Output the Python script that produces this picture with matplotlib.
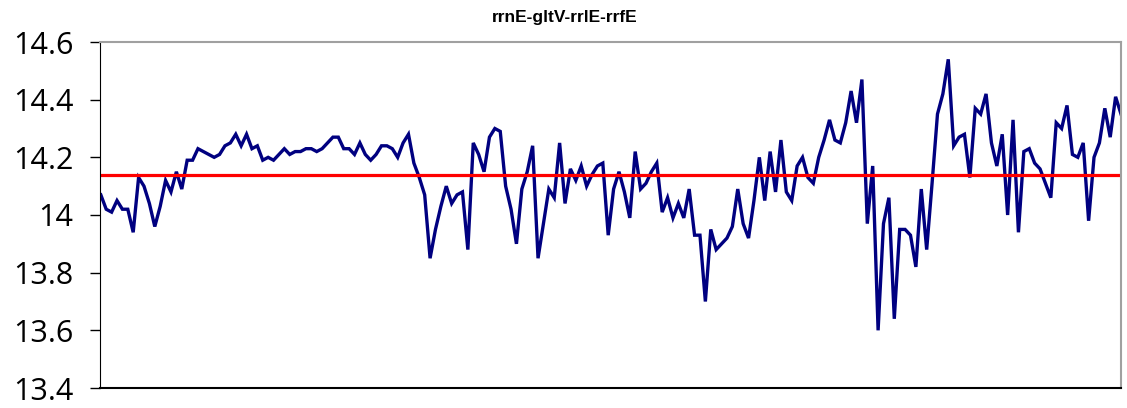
import matplotlib.pyplot as plt
import numpy as np

titulo = 'rrnE-gltV-rrlE-rrfE'

valores = [
    14.07, 14.02, 14.01, 14.05, 14.02, 14.02, 13.94, 14.13, 14.10, 14.04,
    13.96, 14.03, 14.12, 14.08, 14.15, 14.09, 14.19, 14.19, 14.23, 14.22,
    14.21, 14.20, 14.21, 14.24, 14.25, 14.28, 14.24, 14.28, 14.23, 14.24,
    14.19, 14.20, 14.19, 14.21, 14.23, 14.21, 14.22, 14.22, 14.23, 14.23,
    14.22, 14.23, 14.25, 14.27, 14.27, 14.23, 14.23, 14.21, 14.25, 14.21,
    14.19, 14.21, 14.24, 14.24, 14.23, 14.20, 14.25, 14.28, 14.18, 14.13,
    14.07, 13.85, 13.95, 14.03, 14.10, 14.04, 14.07, 14.08, 13.88, 14.25,
    14.21, 14.15, 14.27, 14.30, 14.29, 14.10, 14.02, 13.90, 14.09, 14.15,
    14.24, 13.85, 13.97, 14.09, 14.06, 14.25, 14.04, 14.16, 14.12, 14.17,
    14.10, 14.14, 14.17, 14.18, 13.93, 14.09, 14.15, 14.08, 13.99, 14.22,
    14.09, 14.11, 14.15, 14.18, 14.01, 14.06, 13.99, 14.04, 13.99, 14.09,
    13.93, 13.93, 13.70, 13.95, 13.88, 13.90, 13.92, 13.96, 14.09, 13.97,
    13.92, 14.05, 14.20, 14.05, 14.22, 14.08, 14.26, 14.08, 14.05, 14.17,
    14.20, 14.13, 14.11, 14.20, 14.26, 14.33, 14.26, 14.25, 14.32, 14.43,
    14.32, 14.47, 13.97, 14.17, 13.60, 13.97, 14.06, 13.64, 13.95, 13.95,
    13.93, 13.82, 14.09, 13.88, 14.11, 14.35, 14.42, 14.54, 14.24, 14.27,
    14.28, 14.13, 14.37, 14.35, 14.42, 14.25, 14.17, 14.28, 14.00, 14.33,
    13.94, 14.22, 14.23, 14.18, 14.16, 14.11, 14.06, 14.32, 14.30, 14.38,
    14.21, 14.20, 14.25, 13.98, 14.20, 14.25, 14.37, 14.27, 14.41, 14.35,
]
media = 14.138
yticks = [13.4, 13.6, 13.8, 14.0, 14.2, 14.4, 14.6]
ytick_labels = ['13.4', '13.6', '13.8', '14', '14.2', '14.4', '14.6']

fig = plt.figure(figsize=(11.27, 4.08), dpi=100)
ax = fig.add_axes([100 / 1127, 1 - 388 / 408, 1021 / 1127, 346 / 408])

x = np.arange(len(valores))
ax.plot(x, valores, color='#000080', linewidth=2.4, solid_joinstyle='miter')
ax.axhline(media, color='#ff0000', linewidth=2.3)

ax.set_xlim(-0.15, len(valores) - 1)
ax.set_ylim(13.4, 14.6)
ax.set_xticks([])
ax.set_yticks(yticks)
ax.set_yticklabels(ytick_labels, fontsize=22, fontfamily='Open Sans')
ax.tick_params(axis='y', direction='out', length=7, width=1, pad=12)

ax.spines['left'].set_color('black')
ax.spines['bottom'].set_color('black')
ax.spines['bottom'].set_linewidth(1.5)
for lado in ['top', 'right']:
    ax.spines[lado].set_color('#a0a0a0')
    ax.spines[lado].set_linewidth(1.5)

fig.text(0.501, 0.956, titulo, ha='center', va='center', fontsize=12.5,
         fontweight='bold', fontfamily='Liberation Sans')

fig.savefig('out.png', dpi=100)
